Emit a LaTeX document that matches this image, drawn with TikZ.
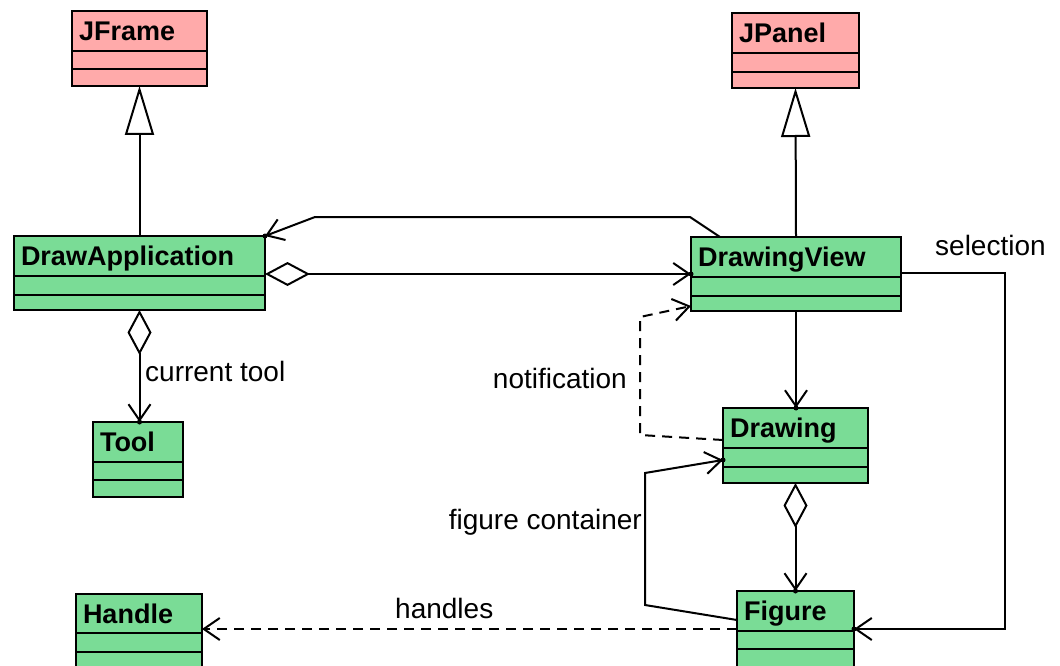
\documentclass[tikz,border=0pt]{standalone}
\usepackage{fontspec}
\setmainfont{Liberation Sans}
\usetikzlibrary{arrows.meta}
\definecolor{jpink}{RGB}{255,170,170}
\definecolor{jgreen}{RGB}{122,220,150}
\tikzset{
  cbox/.style={draw=black, line width=1.8pt, inner sep=0pt, outer sep=0pt, anchor=north west},
  ctitle/.style={cbox, font=\fontsize{27}{30}\selectfont\bfseries},
  conn/.style={line width=2pt, draw=black},
  navtip/.tip={Straight Barb[length=16pt,width=22pt]},
  nav/.style={conn, -navtip},
  agg/.style={conn, {Diamond[fill=white,length=45pt,width=24pt]}-navtip},
  dep/.style={conn, dash pattern=on 10pt off 7pt, -navtip},
  gen/.style={conn, -{Triangle[fill=white,length=49pt,width=29pt]}},
  lbl/.style={inner sep=0pt, font=\fontsize{28}{32}\selectfont},
  tipdot/.style={fill=black}
}
\newcommand\umlclass[9]{%
  \node[ctitle, fill=#8, minimum width=#4pt, minimum height=#5pt, text height=19pt, text depth=0pt] (#1) at (#2,#3) {\hbox to #4pt{\hspace{7pt}#9\hfil}};
  \node[cbox, fill=#8, minimum width=#4pt, minimum height=#6pt] (#1-a) at (#1.south west) {};
  \node[cbox, fill=#8, minimum width=#4pt, minimum height=#7pt] (#1-b) at (#1-a.south west) {};
}
\begin{document}
\begin{tikzpicture}[x=1pt,y=-1pt]
\useasboundingbox (0,0) rectangle (1060,666);
\clip (0,0) rectangle (1060,666);
% classes
\umlclass{jframe}{72}{11}{135}{40}{18}{17}{jpink}{JFrame}
\umlclass{jpanel}{732}{13}{127}{40}{19}{16}{jpink}{JPanel}
\umlclass{da}{14}{236}{251}{40}{19}{15}{jgreen}{DrawApplication}
\umlclass{dv}{691}{237}{210}{40}{19}{15}{jgreen}{DrawingView}
\umlclass{tool}{93}{422}{90}{40}{18}{17}{jgreen}{Tool}
\umlclass{drawing}{723}{408}{145}{40}{19}{16}{jgreen}{Drawing}
\umlclass{figure}{737}{591}{117}{40}{18}{20}{jgreen}{Figure}
\umlclass{handle}{76}{594}{126}{39}{19}{20}{jgreen}{Handle}
% generalizations
\draw[gen] (da.north) -- (jframe-b.south);
\draw[gen] (dv.north) -- (jpanel-b.south);
% DrawingView -> DrawApplication
\coordinate (a1) at (690,217);
\coordinate (a2) at (315,217);
\draw[nav] ([xshift=29pt]dv.north west) -- (a1) -- (a2) -- (da.north east);
\fill[tipdot] (da.north east) circle (2.5pt);
% DrawApplication <>-> DrawingView
\coordinate (e2) at ([yshift=2pt]da.south east -| dv.west);
\draw[agg] ([yshift=2pt]da.south east) -- (e2);
\fill[tipdot] (e2) circle (2.5pt);
% DrawApplication <>-> Tool
\coordinate (e3) at (da-b.south |- tool.north);
\draw[agg] (da-b.south) -- (e3);
\fill[tipdot] (e3) circle (2.5pt);
\node[lbl, anchor=base west] (lct) at (145,381) {current tool};
% notification
\coordinate (n1) at (640,435);
\coordinate (n2) at (640,317);
\coordinate (e4) at ([yshift=5pt]dv-b.south west);
\draw[dep] ([yshift=8pt]drawing.south west) -- (n1) -- (n2) -- (e4);
\node[lbl, anchor=base east] (lnot) at (627,388) {notification};
% DrawingView -> Drawing
\coordinate (e5) at (dv-b.south |- drawing.north);
\draw[nav] (dv-b.south) -- (e5);
\fill[tipdot] (e5) circle (2.5pt);
% figure container
\coordinate (f1) at (645,605);
\coordinate (f2) at (645,473);
\coordinate (e6) at ([yshift=7pt]drawing-a.south west);
\draw[nav] ([yshift=11pt]figure.south west) -- (f1) -- (f2) -- (e6);
\fill[tipdot] (e6) circle (2.5pt);
\node[lbl, anchor=base east] (lfc) at (642,529) {figure container};
% Drawing <>-> Figure
\coordinate (e7) at (drawing-b.south |- figure.north);
\draw[agg] (drawing-b.south) -- (e7);
\fill[tipdot] (e7) circle (2.5pt);
% selection
\coordinate (s1) at (1005,273);
\coordinate (e8) at ([yshift=2pt]figure.south east);
\draw[nav] ([yshift=4pt]dv.south east) -- (s1) |- (e8);
\fill[tipdot] (e8) circle (2.5pt);
\node[lbl, anchor=base west] (lsel) at (935,255) {selection};
% handles
\coordinate (e9) at ([yshift=2pt]figure.south west -| handle.east);
\draw[dep] ([yshift=2pt]figure.south west) -- (e9);
\node[lbl, anchor=base west] (lh) at (395,618) {handles};
\end{tikzpicture}
\end{document}
